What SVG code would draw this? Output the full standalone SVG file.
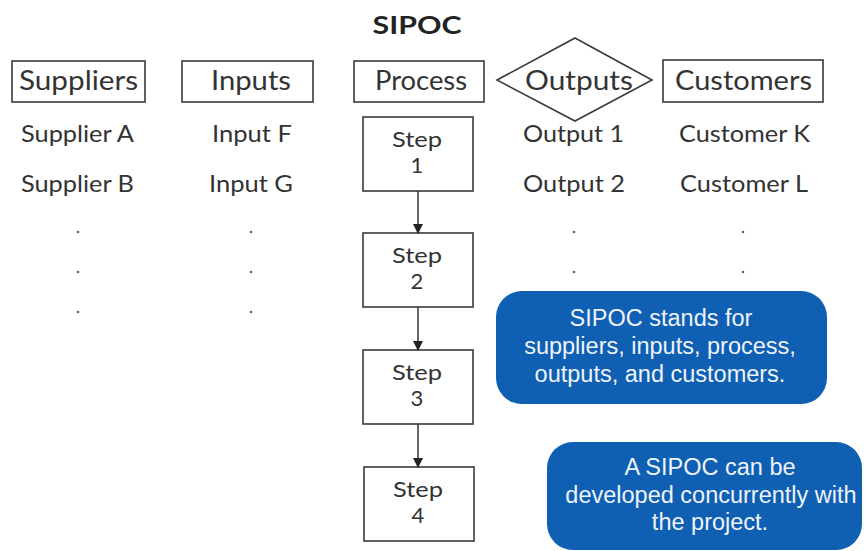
<svg xmlns="http://www.w3.org/2000/svg" width="866" height="551" viewBox="0 0 866 551">
  <style>
    .frame { fill: #ffffff; stroke: #3a3a3a; stroke-width: 1.6; }
    .head { font-family: Lato, "Open Sans", sans-serif; font-size: 27px; fill: #333333; text-anchor: middle; }
    .item { font-family: Lato, "Open Sans", sans-serif; font-size: 23px; fill: #333333; text-anchor: middle; }
    .step { font-family: Lato, "Open Sans", sans-serif; font-size: 22px; fill: #333333; text-anchor: middle; }
    .dot { fill: #666666; }
    .link { stroke: #333333; stroke-width: 1.5; fill: none; }
    .note { fill: #0f5fb3; }
    .noteText { font-family: "Liberation Sans", Arial, sans-serif; font-size: 23.5px; fill: #eef3fa; text-anchor: middle; }
  </style>
  <defs>
    <marker id="arrow" markerWidth="10" markerHeight="12" refX="9" refY="5" orient="auto" markerUnits="userSpaceOnUse">
      <path d="M0,0 L10,5 L0,10 Z" fill="#222222"/>
    </marker>
  </defs>
  <rect width="866" height="551" fill="#ffffff"/>

  <text x="417" y="34" font-family="Lato, 'Open Sans', sans-serif" font-size="24" font-weight="bold" fill="#222222" text-anchor="middle" textLength="89" lengthAdjust="spacingAndGlyphs">SIPOC</text>

  <!-- column headers -->
  <g id="suppliers">
    <rect class="frame" x="12" y="61" width="133" height="41"/>
    <text class="head" x="78.5" y="90" textLength="119" lengthAdjust="spacingAndGlyphs">Suppliers</text>
  </g>
  <g id="inputs">
    <rect class="frame" x="182" y="61" width="131" height="41"/>
    <text class="head" x="251" y="90" textLength="80" lengthAdjust="spacingAndGlyphs">Inputs</text>
  </g>
  <g id="process">
    <rect class="frame" x="354" y="61" width="130" height="41"/>
    <text class="head" x="421" y="90" textLength="92" lengthAdjust="spacingAndGlyphs">Process</text>
  </g>
  <g id="outputs">
    <polygon class="frame" points="575,38 652,80 575,121 497,80"/>
    <text class="head" x="579" y="90" textLength="108" lengthAdjust="spacingAndGlyphs">Outputs</text>
  </g>
  <g id="customers">
    <rect class="frame" x="663" y="60" width="160" height="42"/>
    <text class="head" x="743.5" y="90" textLength="137" lengthAdjust="spacingAndGlyphs">Customers</text>
  </g>

  <!-- column entries -->
  <g id="supplier-items">
    <text class="item" x="77.5" y="142" textLength="113" lengthAdjust="spacingAndGlyphs">Supplier A</text>
    <text class="item" x="77.5" y="192" textLength="113" lengthAdjust="spacingAndGlyphs">Supplier B</text>
    <circle class="dot" cx="78" cy="232" r="1.3"/>
    <circle class="dot" cx="78" cy="272" r="1.3"/>
    <circle class="dot" cx="78" cy="312" r="1.3"/>
  </g>
  <g id="input-items">
    <text class="item" x="252" y="142" textLength="80" lengthAdjust="spacingAndGlyphs">Input F</text>
    <text class="item" x="251" y="192" textLength="84" lengthAdjust="spacingAndGlyphs">Input G</text>
    <circle class="dot" cx="251" cy="232" r="1.3"/>
    <circle class="dot" cx="251" cy="272" r="1.3"/>
    <circle class="dot" cx="251" cy="312" r="1.3"/>
  </g>
  <g id="output-items">
    <text class="item" x="573.5" y="142" textLength="101" lengthAdjust="spacingAndGlyphs">Output 1</text>
    <text class="item" x="574" y="192" textLength="102" lengthAdjust="spacingAndGlyphs">Output 2</text>
    <circle class="dot" cx="574" cy="232" r="1.3"/>
    <circle class="dot" cx="574" cy="272" r="1.3"/>
  </g>
  <g id="customer-items">
    <text class="item" x="744.5" y="142" textLength="131" lengthAdjust="spacingAndGlyphs">Customer K</text>
    <text class="item" x="744" y="192" textLength="128" lengthAdjust="spacingAndGlyphs">Customer L</text>
    <circle class="dot" cx="743" cy="232" r="1.3"/>
    <circle class="dot" cx="743" cy="272" r="1.3"/>
  </g>

  <!-- process steps -->
  <g id="step1">
    <rect class="frame" x="363" y="117" width="110" height="74"/>
    <text class="step" x="417" y="147" textLength="50" lengthAdjust="spacingAndGlyphs">Step</text>
    <text class="step" x="417" y="173">1</text>
  </g>
  <g id="step2">
    <rect class="frame" x="363" y="233" width="110" height="74"/>
    <text class="step" x="417" y="263" textLength="50" lengthAdjust="spacingAndGlyphs">Step</text>
    <text class="step" x="417" y="289">2</text>
  </g>
  <g id="step3">
    <rect class="frame" x="363" y="350" width="110" height="74"/>
    <text class="step" x="417" y="380" textLength="50" lengthAdjust="spacingAndGlyphs">Step</text>
    <text class="step" x="417" y="406">3</text>
  </g>
  <g id="step4">
    <rect class="frame" x="364" y="467" width="110" height="74"/>
    <text class="step" x="418" y="497" textLength="50" lengthAdjust="spacingAndGlyphs">Step</text>
    <text class="step" x="418" y="523">4</text>
  </g>

  <!-- connectors between steps -->
  <g id="connectors">
    <line class="link" x1="418" y1="191" x2="418" y2="233" marker-end="url(#arrow)"/>
    <line class="link" x1="418" y1="307" x2="418" y2="350" marker-end="url(#arrow)"/>
    <line class="link" x1="418" y1="424" x2="418" y2="467" marker-end="url(#arrow)"/>
  </g>

  <!-- callouts -->
  <g id="note-meaning">
    <rect class="note" x="496" y="291" width="331" height="113" rx="26" ry="26"/>
    <text class="noteText" x="661" y="326">SIPOC stands for</text>
    <text class="noteText" x="660" y="354">suppliers, inputs, process,</text>
    <text class="noteText" x="660" y="382">outputs, and customers.</text>
  </g>
  <g id="note-timing">
    <rect class="note" x="547" y="442" width="315" height="108" rx="26" ry="26"/>
    <text class="noteText" x="710" y="475">A SIPOC can be</text>
    <text class="noteText" x="711" y="503">developed concurrently with</text>
    <text class="noteText" x="710" y="530">the project.</text>
  </g>
</svg>
